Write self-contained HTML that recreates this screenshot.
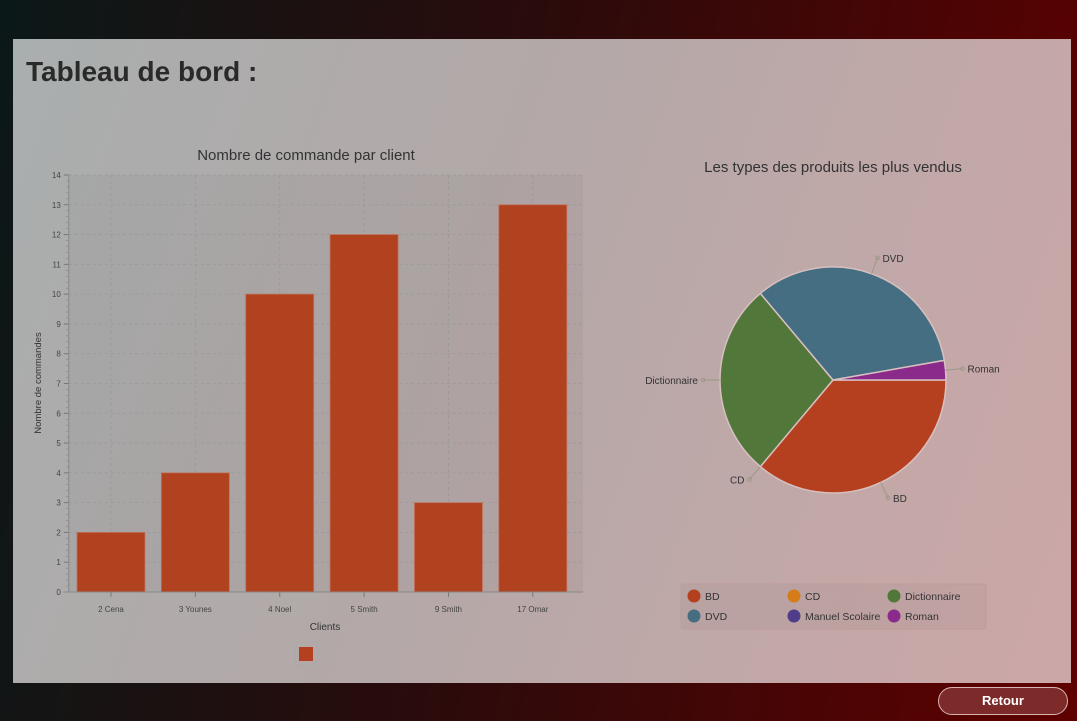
<!DOCTYPE html>
<html><head><meta charset="utf-8"><style>
body{margin:0;width:1077px;height:721px;overflow:hidden;background:linear-gradient(100deg,#0b1818 0%,#2a0b0b 45%,#600000 100%);font-family:"Liberation Sans",sans-serif;position:relative}
#panel{position:absolute;left:13px;top:39px;width:1058px;height:644px;background:linear-gradient(110deg,#a9aeae 0%,#b4a8a8 45%,#cda7a7 100%)}
#title{position:absolute;left:26px;top:56px;font-size:28px;font-weight:bold;color:#2a2a2a}
#retour{position:absolute;left:938px;top:687px;width:130px;height:28px;border:1.5px solid #d9b4b4;border-radius:15px;background:#7d2a2a;color:#fff;font-weight:bold;font-size:13px;text-align:center;line-height:26px;box-sizing:border-box}
svg text{font-family:"Liberation Sans",sans-serif}
</style></head><body>
<div id="panel"></div>
<div id="title">Tableau de bord :</div>
<svg id="chart" width="1077" height="721" style="position:absolute;left:0;top:0"></svg>
<div id="retour">Retour</div>
<script>
const categories=["2 Cena","3 Younes","4 Noel","5 Smith","9 Smith","17 Omar"];
const values=[2,4,10,12,3,13];
const yTicks=[0,1,2,3,4,5,6,7,8,9,10,11,12,13,14];
const pieLabels=["BD","CD","Dictionnaire","DVD","Manuel Scolaire","Roman"];
const pieValues=[13,0,10,12,0,1];
const pieColors=["#b5401f","#d47b1a","#52773a","#456e82","#4f3c8a","#8a2a8a"];
const NS="http://www.w3.org/2000/svg";
const svg=document.getElementById('chart');
function mk(t,a,p){const e=document.createElementNS(NS,t);for(const k in a)e.setAttribute(k,a[k]);(p||svg).appendChild(e);return e;}
const X0=68.8,X1=575,PX1=583,Y0=592,Y1=175,YMAX=14;
const y=v=>Y0-(v/YMAX)*(Y0-Y1);
const bw=(X1-X0)/categories.length;
const x=i=>X0+bw*i;
let t=mk('text',{x:306,y:160,'text-anchor':'middle','font-size':15,fill:'#333'});t.textContent='Nombre de commande par client';


mk('rect',{x:X0,y:Y1,width:PX1-X0,height:Y0-Y1,fill:'rgba(0,0,0,0.03)'});
yTicks.forEach(v=>{
 const g=mk('line',{x1:X0,x2:PX1,y1:y(v),y2:y(v),stroke:'#999','stroke-dasharray':'3,3','stroke-width':0.8});
 
 
 mk('line',{x1:X0-5,x2:X0,y1:y(v),y2:y(v),stroke:'#777'});
 const l=mk('text',{x:X0-8,y:y(v)+3,'text-anchor':'end','font-size':8,fill:'#444'});l.textContent=v;
 
 
 if(v<YMAX)for(let k=1;k<5;k++)mk('line',{x1:X0-3,x2:X0,y1:y(v+k/5),y2:y(v+k/5),stroke:'#888','stroke-width':0.6});
});
categories.forEach((c,i)=>{
 const cx=x(i)+bw/2;
 mk('line',{x1:cx,x2:cx,y1:Y1,y2:Y0,stroke:'#999','stroke-dasharray':'3,3','stroke-width':0.8});
 mk('line',{x1:cx,x2:cx,y1:Y0,y2:Y0+5,stroke:'#777'});
 const r=mk('rect',{x:x(i)+8.2,y:y(values[i]),width:bw-16.4,height:Y0-y(values[i]),fill:'#b0421f',stroke:'#c0705a','stroke-width':0.8});
 
 
 const l=mk('text',{x:cx,y:612,'text-anchor':'middle','font-size':8,fill:'#444'});l.textContent=c;
 
 
});
mk('line',{x1:X0,x2:X0,y1:Y1,y2:Y0,stroke:'#888'});
mk('line',{x1:X0-5,x2:PX1,y1:Y0,y2:Y0,stroke:'#888'});
t=mk('text',{x:325,y:630,'text-anchor':'middle','font-size':10,fill:'#333'});t.textContent='Clients';


t=mk('text',{x:0,y:0,'text-anchor':'middle','font-size':9.5,fill:'#333',transform:'translate(41,383) rotate(-90)'});t.textContent='Nombre de commandes';


let lg=mk('rect',{x:295,y:643,width:22,height:22,rx:3,fill:'none',stroke:'#aaa'});


mk('rect',{x:299,y:647,width:14,height:14,fill:'#b5401f'});
// pie
t=mk('text',{x:833,y:172,'text-anchor':'middle','font-size':15,fill:'#333'});t.textContent='Les types des produits les plus vendus';


const CX=833,CY=380,R=113;
const total=pieValues.reduce((a,b)=>a+b,0);
const mids=[];let acc=0;
pieValues.forEach(v=>{mids.push((acc+v/2)/total*2*Math.PI);acc+=v;});
let ang=0;
pieValues.forEach((v,i)=>{
 const a0=ang,a1=ang+v/total*2*Math.PI;ang=a1;
 const mid=mids[i];
 if(v>0){
  const p=mk('path',{d:`M${CX},${CY} L${CX+R*Math.cos(a0)},${CY+R*Math.sin(a0)} A${R},${R} 0 ${a1-a0>Math.PI?1:0} 1 ${CX+R*Math.cos(a1)},${CY+R*Math.sin(a1)} Z`,fill:pieColors[i],stroke:'#d8c0c0','stroke-width':1.5});
  
  
 }
 if(v===0 && i+1<mids.length && Math.abs(mids[i+1]-mid)<0.2) return;
 const lx=CX+(R+17)*Math.cos(mid),ly=CY+(R+17)*Math.sin(mid);
 mk('line',{x1:CX+R*Math.cos(mid),y1:CY+R*Math.sin(mid),x2:lx,y2:ly,stroke:'#998'});
 mk('circle',{cx:lx,cy:ly,r:1.8,fill:'none',stroke:'#998'});
 const right=Math.cos(mid)>=0;
 const l=mk('text',{x:lx+(right?5:-5),y:ly+4,'text-anchor':right?'start':'end','font-size':10,fill:'#333'});l.textContent=pieLabels[i];
 
 
});
lg=mk('rect',{x:681,y:584,width:305,height:45,rx:3,fill:'rgba(0,0,0,0.03)',stroke:'#c09a9a'});


pieLabels.forEach((n,i)=>{
 const lx=694+(i%3)*100,ly=596+Math.floor(i/3)*20;
 mk('circle',{cx:lx,cy:ly,r:6.5,fill:pieColors[i]});
 const l=mk('text',{x:lx+11,y:ly+4,'font-size':10.5,fill:'#333'});l.textContent=n;
 
 
});
</script>
</body></html>
